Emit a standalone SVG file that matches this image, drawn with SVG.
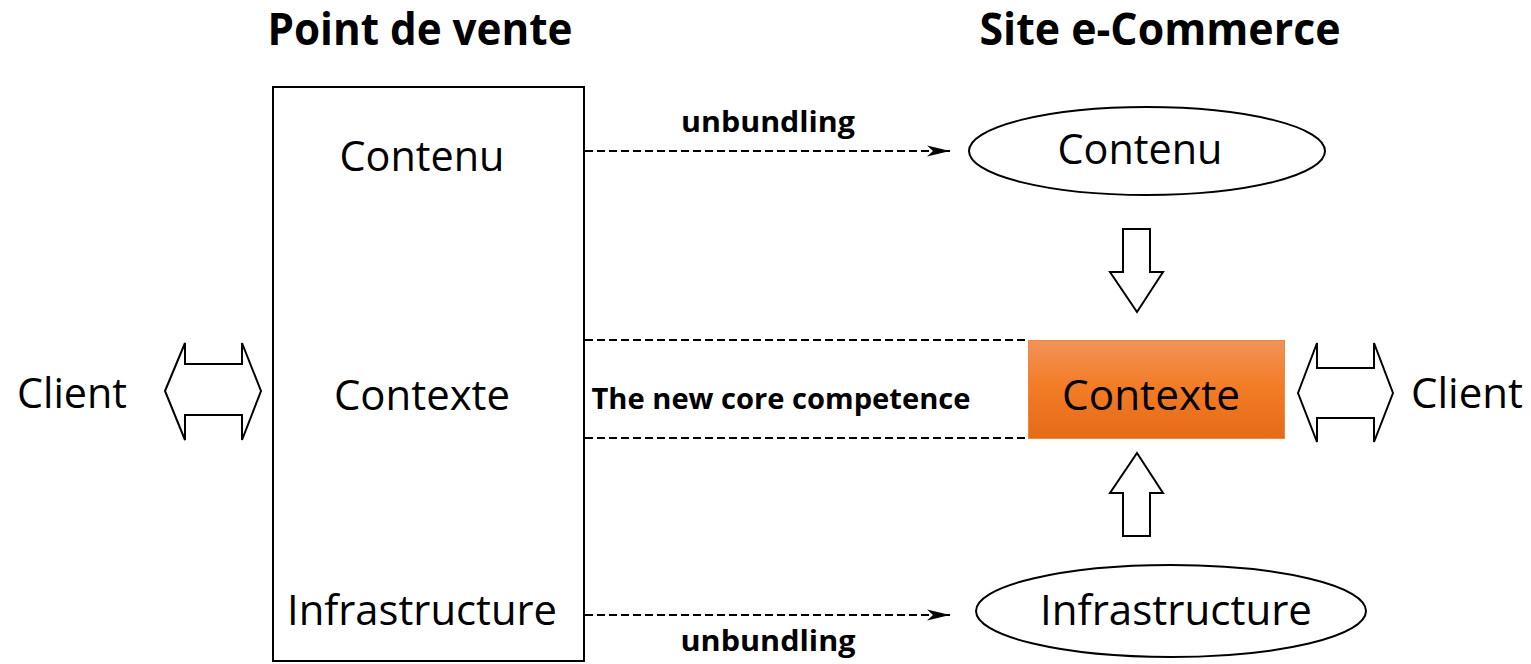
<svg xmlns="http://www.w3.org/2000/svg" width="1531" height="664" viewBox="0 0 1531 664">
  <defs>
    <style>
      .lbl { font-family: "Open Sans", "Noto Sans", sans-serif; font-size: 42px; fill: #000; text-anchor: middle; }
      .ttl { font-family: "Open Sans", "Noto Sans", sans-serif; font-weight: bold; font-size: 44px; fill: #000; text-anchor: middle; }
      .note { font-family: "Open Sans", "Noto Sans", sans-serif; font-weight: bold; font-size: 28px; fill: #000; text-anchor: middle; }
      .shape { fill: #fff; stroke: #000; stroke-width: 2; }
      .dash { fill: none; stroke: #000; stroke-width: 2; stroke-dasharray: 8 4; }
    </style>
    <linearGradient id="orangeFill" x1="0" y1="0" x2="0" y2="1">
      <stop offset="0" stop-color="#F1935A"/>
      <stop offset="0.45" stop-color="#F37C27"/>
      <stop offset="1" stop-color="#E56B17"/>
    </linearGradient>
    <marker id="stealth" markerWidth="24" markerHeight="12" refX="23" refY="6" orient="auto" markerUnits="userSpaceOnUse">
      <path d="M0,0.5 L23,6 L0,11.5 L6,6 Z" fill="#000"/>
    </marker>
  </defs>

  <!-- column headings -->
  <text class="ttl" x="420" y="45" textLength="305" lengthAdjust="spacingAndGlyphs">Point de vente</text>
  <text class="ttl" x="1160" y="45" textLength="361" lengthAdjust="spacingAndGlyphs">Site e-Commerce</text>

  <!-- connectors -->
  <g id="connectors">
    <line class="dash" x1="585" y1="151" x2="950" y2="151" marker-end="url(#stealth)"/>
    <line class="dash" x1="585" y1="615" x2="950" y2="615" marker-end="url(#stealth)"/>
    <line class="dash" x1="585" y1="340" x2="1028" y2="340"/>
    <line class="dash" x1="585" y1="438" x2="1028" y2="438"/>
    <text class="note" x="768" y="132" textLength="174" lengthAdjust="spacingAndGlyphs">unbundling</text>
    <text class="note" x="768" y="651" textLength="175" lengthAdjust="spacingAndGlyphs">unbundling</text>
    <text class="note" x="781" y="409" font-size="30" textLength="379" lengthAdjust="spacingAndGlyphs">The new core competence</text>
  </g>

  <!-- physical store block -->
  <g id="point-de-vente">
    <rect class="shape" x="273" y="87" width="311" height="574"/>
    <text class="lbl" x="422" y="171" textLength="165" lengthAdjust="spacingAndGlyphs">Contenu</text>
    <text class="lbl" x="422" y="410" textLength="176" lengthAdjust="spacingAndGlyphs">Contexte</text>
    <text class="lbl" x="422" y="625" textLength="270" lengthAdjust="spacingAndGlyphs">Infrastructure</text>
  </g>

  <!-- left customer -->
  <g id="client-left">
    <path class="shape" d="M165,391 L185,343 L185,364 L242,364 L242,343 L261,391 L242,440 L242,415 L185,415 L185,440 Z"/>
    <text class="lbl" x="72" y="408" textLength="110" lengthAdjust="spacingAndGlyphs">Client</text>
  </g>

  <!-- e-commerce content -->
  <g id="contenu-web">
    <ellipse class="shape" cx="1147" cy="151" rx="178" ry="44"/>
    <text class="lbl" x="1140" y="164" textLength="165" lengthAdjust="spacingAndGlyphs">Contenu</text>
  </g>

  <!-- arrow down into context -->
  <g id="arrow-down">
    <path class="shape" d="M1123,229 L1150,229 L1150,272 L1163,272 L1137,312 L1110,272 L1123,272 Z"/>
  </g>

  <!-- e-commerce context -->
  <g id="contexte-web">
    <rect x="1028.5" y="340.5" width="256" height="98" fill="url(#orangeFill)" stroke="#F0873F" stroke-width="1"/>
    <text class="lbl" x="1151" y="410" textLength="178" lengthAdjust="spacingAndGlyphs">Contexte</text>
  </g>

  <!-- arrow up into context -->
  <g id="arrow-up">
    <path class="shape" d="M1137,453 L1163,493 L1150,493 L1150,536 L1123,536 L1123,493 L1110,493 Z"/>
  </g>

  <!-- e-commerce infrastructure -->
  <g id="infrastructure-web">
    <ellipse class="shape" cx="1171" cy="611" rx="195" ry="46"/>
    <text class="lbl" x="1176" y="625" textLength="272" lengthAdjust="spacingAndGlyphs">Infrastructure</text>
  </g>

  <!-- right customer -->
  <g id="client-right">
    <path class="shape" d="M1298,393 L1317,343 L1317,368 L1374,368 L1374,343 L1393,393 L1374,442 L1374,418 L1317,418 L1317,442 Z"/>
    <text class="lbl" x="1467" y="408" textLength="112" lengthAdjust="spacingAndGlyphs">Client</text>
  </g>
</svg>
